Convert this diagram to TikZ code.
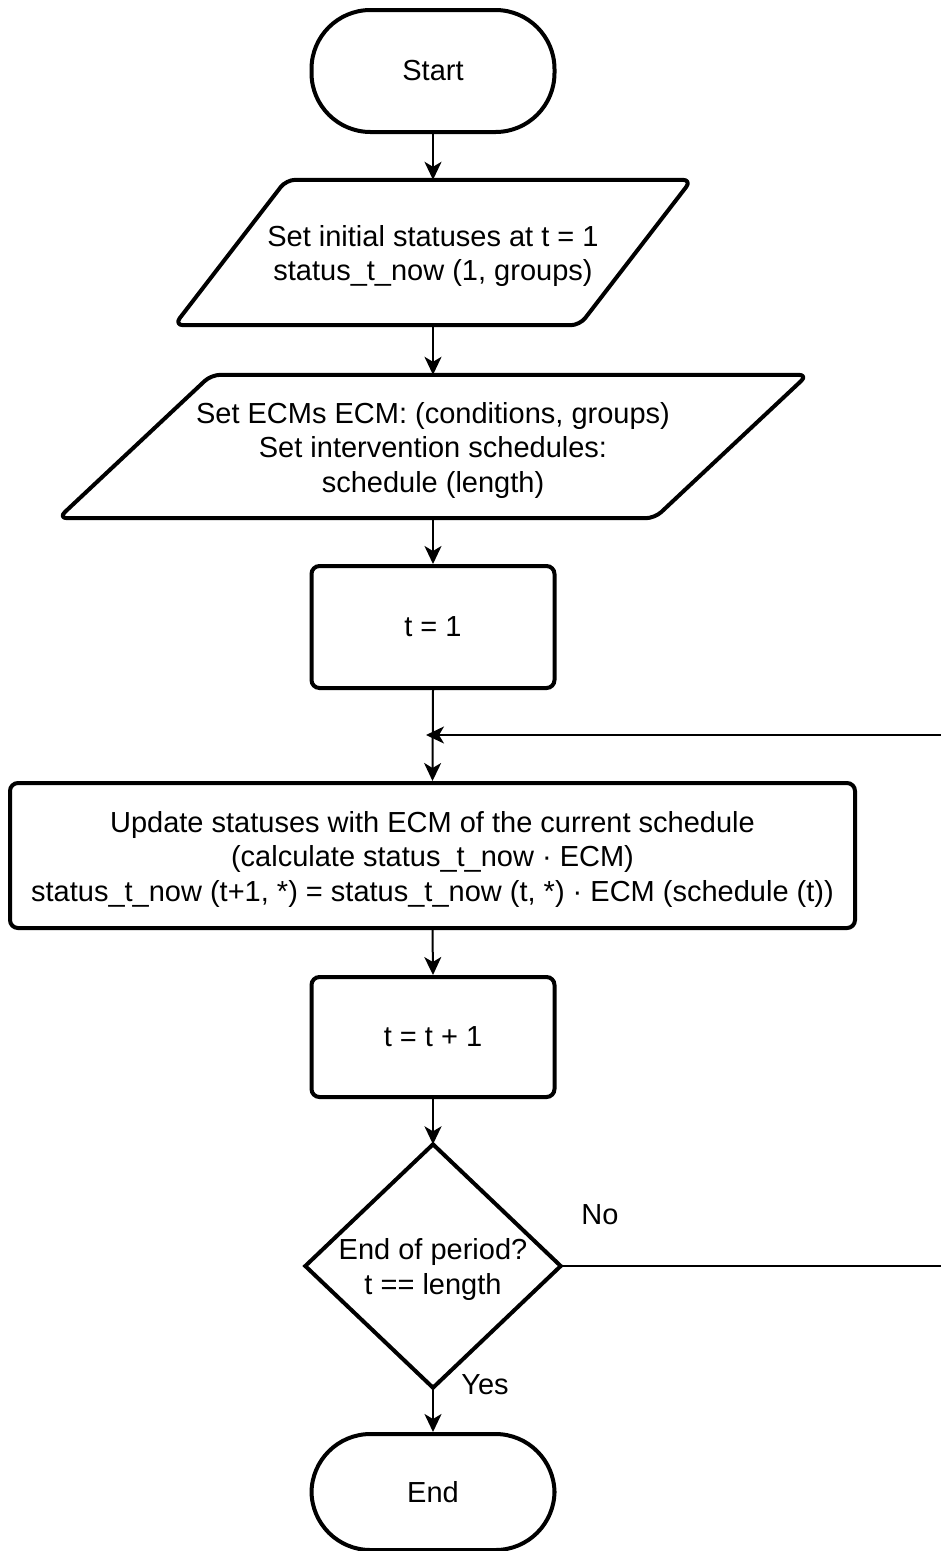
\documentclass[tikz,border=0pt]{standalone}
\usepackage{fontspec}
\setmainfont{Liberation Sans}
\usetikzlibrary{arrows.meta}
\begin{document}
\begin{tikzpicture}[x=1pt,y=-1pt,
  txt/.style={font=\fontsize{29}{34.5}\selectfont, align=center, text=black},
  mtext/.style={label={[txt, yshift=-3.5pt]center:{#1}}},
  box/.style={txt, draw, line width=4pt, rounded corners=8pt, inner sep=0pt},
  term/.style={txt, draw, line width=4pt, rounded corners=59pt, inner sep=0pt, minimum width=243pt},
  plainnode/.style={txt, inner sep=0pt},
  para/.style={draw, line width=4pt, rounded corners=9pt, line join=round},
  conn/.style={line width=2pt, -{Stealth[length=18pt,width=17pt,inset=5pt]}},
  lbl/.style={txt}
]
\useasboundingbox (0,0) rectangle (941,1551);

% Start
\node[term, minimum height=122pt] (start) at (433,71) {Start};

% parallelogram 1
\node[plainnode, minimum width=405pt, minimum height=145pt,
  mtext={Set initial statuses at t = 1\\status\_t\_now (1, groups)}] (p1) at (433,252.5) {};
\draw[para] ([xshift=-56pt]p1.south west) -- ([xshift=56pt]p1.north west)
  -- ([xshift=56pt]p1.north east) -- ([xshift=-56pt]p1.south east) -- cycle;

% parallelogram 2
\node[plainnode, minimum width=596pt, minimum height=143pt,
  mtext={Set ECMs ECM: (conditions, groups)\\Set intervention schedules:\\schedule (length)}] (p2) at (433,446.5) {};
\draw[para] ([xshift=-76.5pt]p2.south west) -- ([xshift=76.5pt]p2.north west)
  -- ([xshift=76.5pt]p2.north east) -- ([xshift=-76.5pt]p2.south east) -- cycle;

% t = 1
\node[box, minimum width=243pt, minimum height=122pt] (t1) at (433,627) {t = 1};

% update
\node[box, minimum width=845pt, minimum height=145pt,
  mtext={Update statuses with ECM of the current schedule\\(calculate status\_t\_now · ECM)\\status\_t\_now (t+1, *) = status\_t\_now (t, *) · ECM (schedule (t))}] (upd) at (432.5,855.5) {};

% t = t + 1
\node[box, minimum width=243pt, minimum height=120pt] (t2) at (433,1037) {t = t + 1};

% decision
\node[plainnode, minimum width=255pt, minimum height=243pt,
  mtext={End of period?\\t == length}] (dia) at (433,1266) {};
\draw[line width=4pt, line join=miter] (dia.north) -- (dia.east) -- (dia.south) -- (dia.west) -- cycle;

% End
\node[term, minimum height=116pt] (end) at (433,1492) {End};

% labels
\node[lbl] (no) at (600,1215) {No};
\node[lbl] (yes) at (485,1385) {Yes};

% connectors
\draw[conn] (start.south) -- (p1.north);
\draw[conn] (p1.south) -- (p2.north);
\draw[conn] (p2.south) -- (t1.north);
\draw[conn] (t1.south) -- (upd.north);
\draw[conn] (upd.south) -- (t2.north);
\draw[conn] (t2.south) -- (dia.north);
\draw[conn] (dia.south) -- (end.north);

\coordinate (diaR) at (946,1266);
\coordinate (loopR) at (946,735);
\coordinate (loopEnd) at (426,735);
\draw[conn] (dia.east) -- (diaR) -- (loopR) -- (loopEnd);
\end{tikzpicture}
\end{document}
